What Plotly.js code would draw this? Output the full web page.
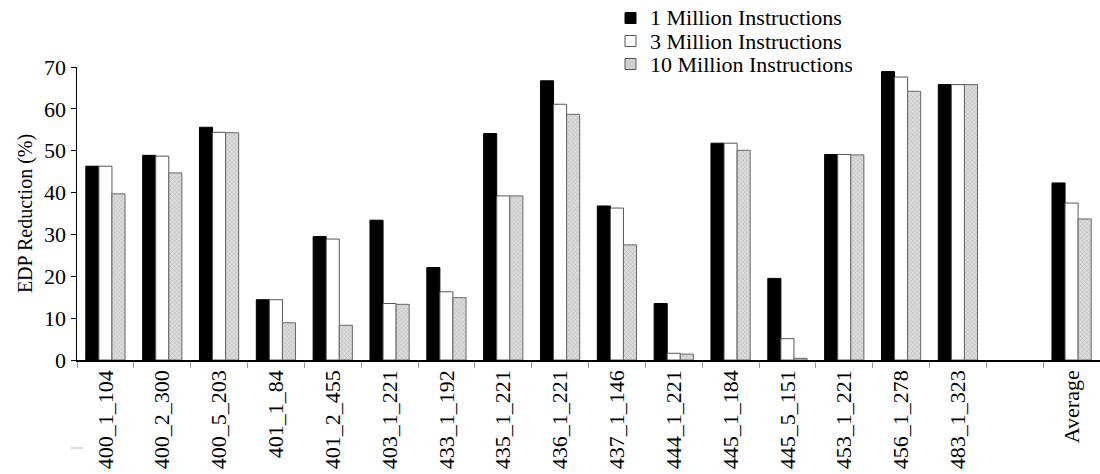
<!DOCTYPE html>
<html>
<head>
<meta charset="utf-8">
<script src="https://cdn.plot.ly/plotly-3.0.1.min.js"></script>
<style>
  html, body { margin: 0; padding: 0; background: #fff; }
  #chart { width: 1100px; height: 474px; }
</style>
</head>
<body>
<div id="chart"></div>
<script>
// Benchmark traces (the blank slot separates the per-trace bars from the average)
const benchmarks = [
  "400_1_104", "400_2_300", "400_5_203", "401_1_84", "401_2_455", "403_1_221",
  "433_1_192", "435_1_221", "436_1_221", "437_1_146", "444_1_221", "445_1_184",
  "445_5_151", "453_1_221", "456_1_278", "483_1_323", " ", "Average"
];

// EDP reduction (%) per interval length
const oneMillion = [46.3, 48.9, 55.6, 14.4, 29.5, 33.4, 22.1, 54.1, 66.7, 36.8, 13.5, 51.8, 19.5, 49.1, 68.9, 65.8, null, 42.3];
const threeMillion = [46.3, 48.7, 54.4, 14.4, 28.9, 13.5, 16.3, 39.2, 61.1, 36.3, 1.6, 51.8, 5.1, 49.1, 67.6, 65.8, null, 37.5];
const tenMillion = [39.7, 44.7, 54.3, 8.9, 8.3, 13.3, 14.9, 39.2, 58.7, 27.5, 1.4, 50.1, 0.4, 49.0, 64.2, 65.8, null, 33.7];

const seriesNames = ["1 Million Instructions", "3 Million Instructions", "10 Million Instructions"];

const serif = "Liberation Serif, Times New Roman, serif";

const W = 1100, H = 474;
const M = { l: 77, r: 0, t: 67, b: 114 };
const plotW = W - M.l - M.r, plotH = H - M.t - M.b;
// pixel -> paper helpers for the hand-drawn key
const px = v => (v - M.l) / plotW;
const py = v => (H - M.b - v) / plotH;

const styles = [
  { color: "#000000", line: { color: "#000000", width: 1 } },
  { color: "#ffffff", line: { color: "#555555", width: 1 } },
  {
    color: "#d6d6d6", line: { color: "#666666", width: 1 },
    pattern: { shape: "x", size: 3, solidity: 0.25, fgcolor: "#b0b0b0", bgcolor: "#dcdcdc" }
  }
];

const series = [oneMillion, threeMillion, tenMillion];
const traces = series.map((vals, i) => ({
  type: "bar", name: seriesNames[i], x: benchmarks, y: vals, marker: styles[i]
}));

// Key in the top right: swatch + label per series
const keyRows = [18, 41, 64];
const keyShapes = [], keyNotes = [];
seriesNames.forEach((name, i) => {
  const cy = keyRows[i];
  keyShapes.push({
    type: "rect", xref: "paper", yref: "paper",
    x0: px(625), x1: px(636), y0: py(cy + 5.5), y1: py(cy - 5.5),
    fillcolor: i === 2 ? "#cfcfcf" : styles[i].color,
    line: { color: i === 0 ? "#000000" : "#555555", width: 1 }
  });
  keyNotes.push({
    xref: "paper", yref: "paper", x: px(648), y: py(cy),
    xanchor: "left", yanchor: "middle", showarrow: false,
    text: name, font: { family: serif, size: 22, color: "#000000" }
  });
});

const layout = {
  width: W, height: H,
  margin: M,
  paper_bgcolor: "#ffffff", plot_bgcolor: "#ffffff",
  barmode: "group", bargap: 0.31, bargroupgap: 0,
  font: { family: serif, color: "#000000" },
  showlegend: false,
  xaxis: {
    type: "category",
    showline: true, linecolor: "#000000", linewidth: 1.5,
    ticks: "outside", tickson: "boundaries", ticklen: 6, tickcolor: "#999999",
    tickangle: -90, tickfont: { family: serif, size: 22, color: "#000000" },
    showgrid: false, zeroline: false
  },
  yaxis: {
    range: [0, 70], dtick: 10,
    showline: true, linecolor: "#000000", linewidth: 1.5,
    ticks: "outside", ticklen: 5, tickcolor: "#000000",
    tickfont: { family: serif, size: 22, color: "#000000" },
    title: { text: "EDP Reduction (%)", font: { family: serif, size: 20, color: "#000000" }, standoff: 6 },
    showgrid: false, zeroline: false
  },
  shapes: keyShapes.concat([
    { type: "line", xref: "paper", yref: "paper", x0: px(71), x1: px(83), y0: py(448), y1: py(448),
      line: { color: "#bbbbbb", width: 1 } }
  ]),
  annotations: keyNotes
};

Plotly.newPlot("chart", traces, layout, { displayModeBar: false, staticPlot: true });
</script>
</body>
</html>
